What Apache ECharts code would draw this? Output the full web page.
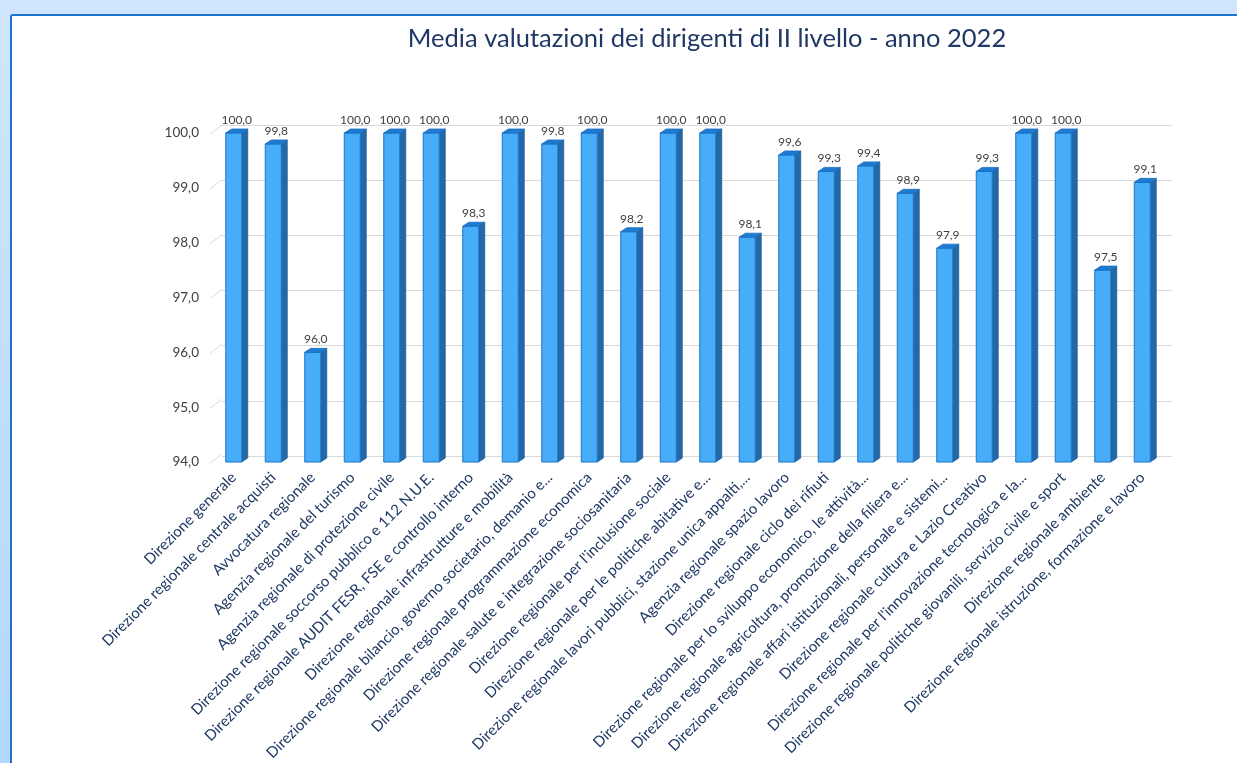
<!DOCTYPE html>
<html>
<head>
<meta charset="utf-8">
<script src="https://cdn.jsdelivr.net/npm/echarts@6/dist/echarts.min.js"></script>
<style>
  html, body { margin: 0; padding: 0; }
  body { width: 1237px; height: 763px; overflow: hidden; position: relative;
         background: linear-gradient(180deg, #cfe6fd 0%, #b3d8fb 100%); }
  #frame { position: absolute; left: 10px; top: 14px; width: 1240px; height: 760px;
           background: #fff; border-left: 2px solid #1f72d0; border-top: 2px solid #1f72d0;
           border-top-left-radius: 3px; }
  #main { position: absolute; left: 0; top: 0; width: 1237px; height: 763px; }
</style>
</head>
<body>
<div id="frame"></div>
<div id="main"></div>
<script>
// categorie (etichette asse x)
var categories = [
  'Direzione generale',
  'Direzione regionale centrale acquisti',
  'Avvocatura regionale',
  'Agenzia regionale del turismo',
  'Agenzia regionale di protezione civile',
  'Direzione regionale soccorso pubblico e 112 N.U.E.',
  'Direzione regionale AUDIT FESR, FSE e controllo interno',
  'Direzione regionale infrastrutture e mobilità',
  'Direzione regionale bilancio, governo societario, demanio e...',
  'Direzione regionale programmazione economica',
  'Direzione regionale salute e integrazione sociosanitaria',
  "Direzione regionale per l'inclusione sociale",
  'Direzione regionale per le politiche abitative e...',
  'Direzione regionale lavori pubblici, stazione unica appalti,...',
  'Agenzia regionale spazio lavoro',
  'Direzione regionale ciclo dei rifiuti',
  'Direzione regionale per lo sviluppo economico, le attività...',
  'Direzione regionale agricoltura, promozione della filiera e...',
  'Direzione regionale affari istituzionali, personale e sistemi...',
  'Direzione regionale cultura e Lazio Creativo',
  "Direzione regionale per l'innovazione tecnologica e la...",
  'Direzione regionale politiche giovanili, servizio civile e sport',
  'Direzione regionale ambiente',
  'Direzione regionale istruzione, formazione e lavoro'
];
// media valutazioni
var values = [100.0, 99.8, 96.0, 100.0, 100.0, 100.0, 98.3, 100.0, 99.8, 100.0, 98.2, 100.0,
              100.0, 98.1, 99.6, 99.3, 99.4, 98.9, 97.9, 99.3, 100.0, 100.0, 97.5, 99.1];
// tick asse y
var yTicks = [94, 95, 96, 97, 98, 99, 100];

var yMin = 94, yMax = 100;
var FONT = 'Lato, "Open Sans", sans-serif';

function fmt(v) {
  return v.toFixed(1).replace('.', ',');
}

var chart = echarts.init(document.getElementById('main'), null, { renderer: 'canvas' });

// barra "3D": faccia frontale, lato e tetto
function renderBar(params, api) {
  var c = api.coord([api.value(0), api.value(1)]);
  var b = api.coord([api.value(0), yMin]);
  var w = 16, dx = 6, dy = 4;
  var x = c[0] - w / 2;
  return {
    type: 'group',
    children: [
      { type: 'polygon',
        shape: { points: [[x + w, c[1]], [x + w + dx, c[1] - dy], [x + w + dx, b[1] - dy], [x + w, b[1]]] },
        style: { fill: '#2468a8', stroke: '#1d5f9e', lineWidth: 0.8 } },
      { type: 'rect',
        shape: { x: x, y: c[1], width: w, height: b[1] - c[1] },
        style: { fill: '#47adf8', stroke: '#1c74c9', lineWidth: 1 } },
      { type: 'polygon',
        shape: { points: [[x, c[1]], [x + dx, c[1] - dy], [x + w + dx, c[1] - dy], [x + w, c[1]]] },
        style: { fill: '#1e7bd2', stroke: '#1c6fc0', lineWidth: 0.8 } },
      { type: 'text',
        style: { text: fmt(api.value(1)), x: c[0] + 3, y: c[1] - dy - 3,
                 align: 'center', verticalAlign: 'bottom',
                 fill: '#404040', fontSize: 12, fontFamily: FONT } }
    ]
  };
}

// trattini obliqui a sinistra (parete laterale)
function renderSlant(params, api) {
  var p = api.coord([0, api.value(1)]);
  var half = api.size([1, 0])[0] / 2;
  var x0 = p[0] - half - 4;
  return {
    type: 'line',
    shape: { x1: x0, y1: p[1] + 1, x2: x0 + 12, y2: p[1] - 8 },
    style: { stroke: '#d9d9d9', lineWidth: 1 }
  };
}

var option = {
  backgroundColor: 'transparent',
  animation: false,
  title: {
    text: 'Media valutazioni dei dirigenti di II livello - anno 2022',
    left: 702,
    top: 21,
    textAlign: 'center',
    textStyle: { color: '#1f3864', fontSize: 25.5, fontWeight: 'normal', fontFamily: FONT }
  },
  grid: [
    { left: 214, top: 133, width: 948, height: 331 },
    { left: 222, top: 125, width: 950, height: 331 }
  ],
  xAxis: [
    { type: 'category', gridIndex: 0, data: categories,
      axisLine: { show: false }, axisTick: { show: false },
      axisLabel: { interval: 0, rotate: 45, margin: 13, color: '#1f3864',
                   fontSize: 15, fontFamily: FONT } },
    { type: 'category', gridIndex: 1, data: categories, show: false }
  ],
  yAxis: [
    { type: 'value', gridIndex: 0, min: yMin, max: yMax, interval: 1,
      axisLine: { show: false }, axisTick: { show: false }, splitLine: { show: false },
      axisLabel: { formatter: fmt, margin: 15, color: '#404040', fontSize: 13.5, fontFamily: FONT } },
    { type: 'value', gridIndex: 1, min: yMin, max: yMax, interval: 1,
      axisLine: { show: false }, axisTick: { show: false }, axisLabel: { show: false },
      splitLine: { lineStyle: { color: '#d9d9d9', width: 1 } } }
  ],
  series: [
    { type: 'custom', xAxisIndex: 0, yAxisIndex: 0, clip: false, silent: true,
      renderItem: renderSlant,
      data: yTicks.map(function (t) { return [0, t]; }) },
    { type: 'custom', name: 'Media', xAxisIndex: 0, yAxisIndex: 0, clip: false,
      renderItem: renderBar,
      data: values.map(function (v, i) { return [i, v]; }) }
  ]
};

chart.setOption(option);
</script>
</body>
</html>
